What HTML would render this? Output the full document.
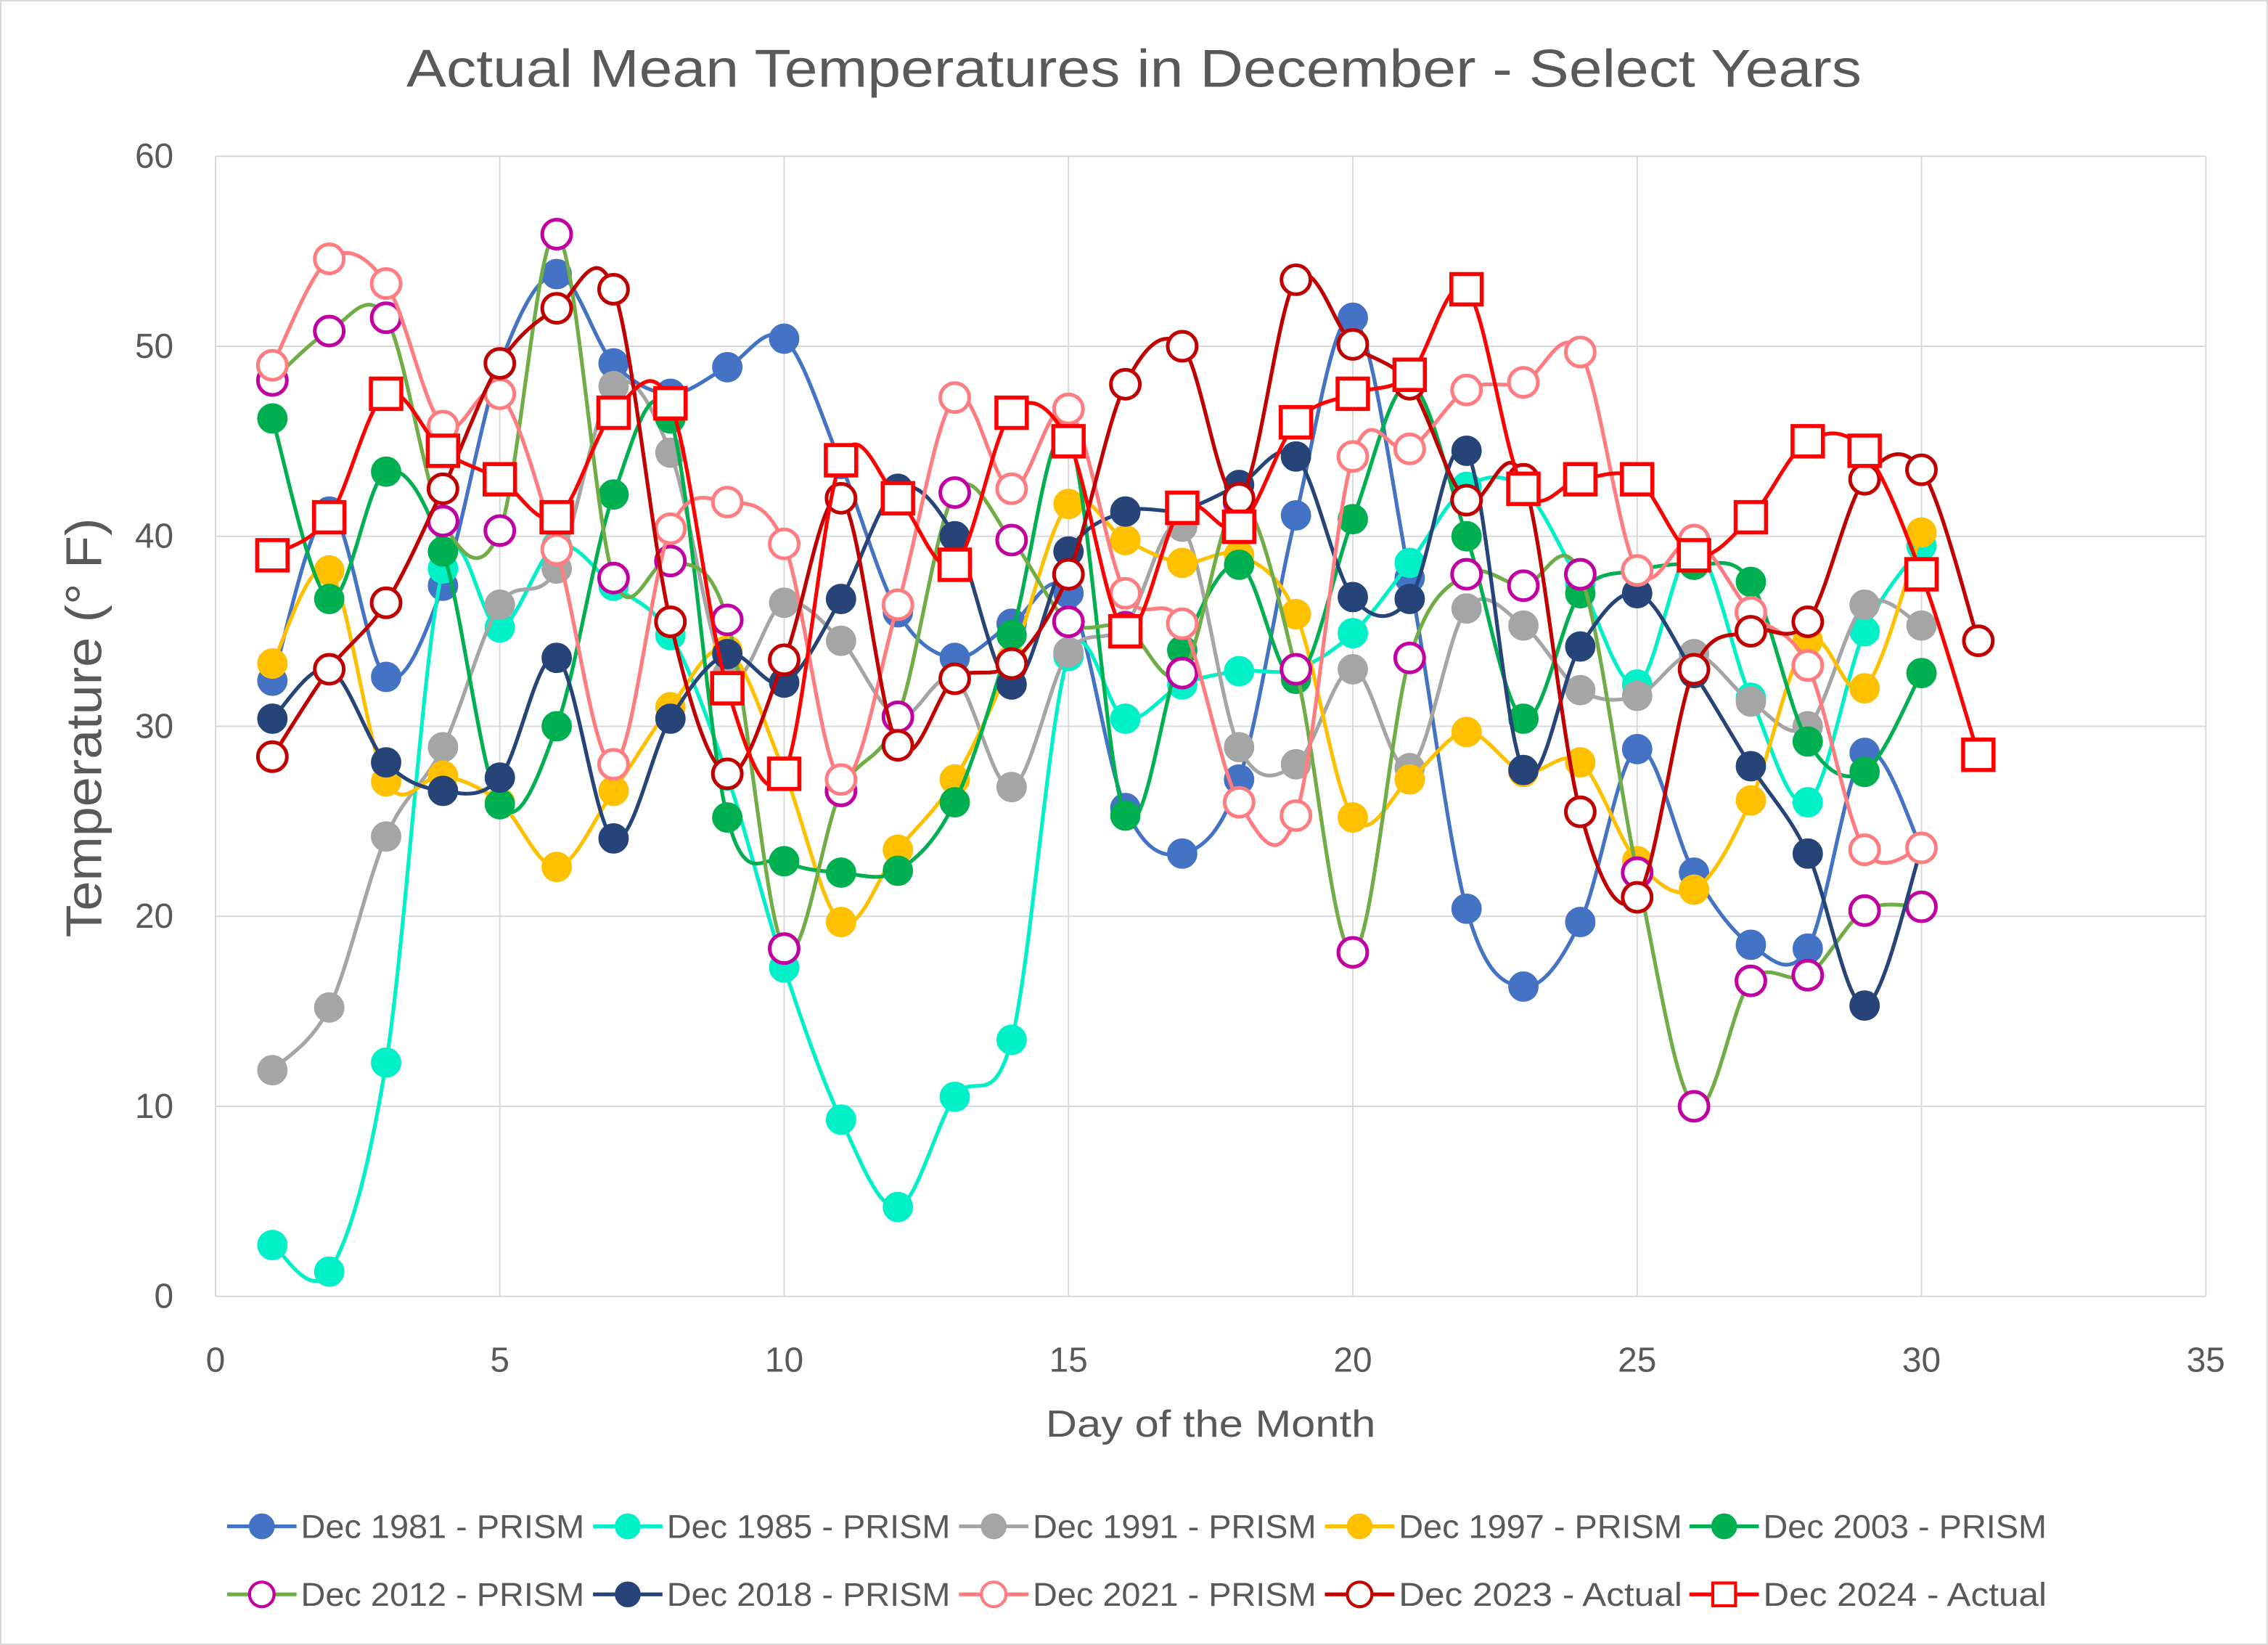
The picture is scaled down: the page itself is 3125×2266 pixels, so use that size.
<!DOCTYPE html>
<html><head><meta charset="utf-8"><style>
html,body{margin:0;padding:0;background:#fff;}
svg{display:block;font-family:"Liberation Sans",sans-serif;}
</style></head><body>
<svg id="chart" width="3125" height="2266" viewBox="0 0 1568 1137" preserveAspectRatio="none" xmlns="http://www.w3.org/2000/svg">
<rect x="0.5" y="0.5" width="1567" height="1136" fill="#fff" stroke="#d9d9d9"/>
<text x="784" y="60" text-anchor="middle" font-size="37" fill="#595959" textLength="1006" lengthAdjust="spacingAndGlyphs">Actual Mean Temperatures in December - Select Years</text>
<g id="grid"></g><g id="series"></g><g id="legend"></g>
<text transform="translate(70,503) rotate(-90)" text-anchor="middle" font-size="35" fill="#595959" textLength="290" lengthAdjust="spacingAndGlyphs">Temperature (° F)</text>
<text x="837" y="993" text-anchor="middle" font-size="26" fill="#595959" textLength="228" lengthAdjust="spacingAndGlyphs">Day of the Month</text>
</svg>
<script>
const yTicks=[0,10,20,30,40,50,60];
const xTicks=[0,5,10,15,20,25,30,35];
const seriesNames=["Dec 1981 - PRISM","Dec 1985 - PRISM","Dec 1991 - PRISM","Dec 1997 - PRISM","Dec 2003 - PRISM","Dec 2012 - PRISM","Dec 2018 - PRISM","Dec 2021 - PRISM","Dec 2023 - Actual","Dec 2024 - Actual"];
const s1981=[32.4,41.3,32.6,37.4,49,53.8,49.1,47.5,48.9,50.4,43.8,36,33.6,35.4,37,25.7,23.3,27.2,41.1,51.5,37.8,20.4,16.3,19.7,28.8,22.3,18.5,18.3,28.6,23.6];
const s1985=[2.7,1.3,12.3,38.3,35.2,39.5,37.4,34.8,27.4,17.3,9.3,4.7,10.5,13.5,33.7,30.4,32.2,32.9,33,34.9,38.6,42.6,42.5,37.5,32.2,39.4,31.5,26,35,39.5];
const s1991=[11.9,15.2,24.2,28.9,36.4,38.3,47.9,44.4,32.7,36.5,34.5,30.5,32.5,26.8,33.9,35.3,40.5,28.9,28,33,27.8,36.2,35.3,31.9,31.6,33.8,31.3,30,36.4,35.3];
const s1997=[33.3,38.2,27.1,27.4,26,22.6,26.6,31,34,27.6,19.7,23.5,27.2,33.5,41.7,39.8,38.6,39,35.9,25.2,27.2,29.7,27.6,28.1,22.9,21.4,26.1,34.5,32,40.2];
const s2003=[46.2,36.7,43.4,39.2,25.9,30,42.2,46.2,25.2,22.9,22.3,22.4,26,34.8,45.3,25.3,34,38.5,32.5,40.9,48,40,30.4,37,38.2,38.5,37.6,29.2,27.6,32.8];
const s2012=[48.2,50.8,51.5,40.8,40.3,55.9,37.8,38.7,35.6,18.3,26.6,30.5,42.3,39.8,35.5,35.2,32.8,41.8,33,18.1,33.6,38,37.4,38,22.3,10,16.6,16.9,20.3,20.5];
const s2018=[30.4,33,28.1,26.6,27.3,33.6,24.1,30.4,33.8,32.3,36.7,42.5,40,32.2,39.2,41.3,41.4,42.7,44.2,36.8,36.7,44.5,27.7,34.2,37,32.8,27.9,23.3,15.3,23.6];
const s2021=[49,54.6,53.3,45.8,47.5,39.3,28,40.4,41.8,39.6,27.2,36.4,47.3,42.5,46.7,37,35.4,26,25.3,44.2,44.6,47.7,48.1,49.7,38.2,39.8,36,33.2,23.5,23.6];
const s2023=[28.4,33,36.5,42.5,49.1,52,53,35.5,27.5,33.5,42,29,32.5,33.3,38,48,50,42,53.5,50.1,48,41.9,43,25.5,21,33,35,35.5,43,43.5,34.5];
const s2024=[39,41,47.5,44.5,43,41,46.5,47,32,27.5,44,42,38.5,46.5,45,35,41.5,40.5,46,47.5,48.5,53,42.5,43,43,39,41,45,44.5,38,28.5];
const allSeries=[s1981,s1985,s1991,s1997,s2003,s2012,s2018,s2021,s2023,s2024];
const lineColors=["#4472C4","#00F0C8","#A5A5A5","#FFC000","#00B050","#70AD47","#264478","#FF7C80","#C00000","#FF0000"];
const markerColors=["#4472C4","#00F0C8","#A5A5A5","#FFC000","#00B050","#C000A0","#264478","#FF7C80","#C00000","#FF0000"];
const markerTypes=["fill","fill","fill","fill","fill","ring","fill","ring","ring","square"];
const NS="http://www.w3.org/2000/svg";
const X0=149,X1=1525,Y0=896,Y1=108;
const xs=v=>X0+(v-0)/(35-0)*(X1-X0);
const ys=v=>Y0-(v-0)/(60-0)*(Y0-Y1);
function mk(tag,attrs,parent){const e=document.createElementNS(NS,tag);for(const k in attrs)e.setAttribute(k,attrs[k]);parent.appendChild(e);return e;}
const grid=document.getElementById('grid');
yTicks.forEach(t=>{
 const l=mk('line',{x1:X0,x2:X1,y1:ys(t),y2:ys(t),stroke:'#d9d9d9','stroke-width':1},grid);
 
 
 const tx=mk('text',{x:120,y:ys(t)+8,'text-anchor':'end','font-size':24,fill:'#595959'},grid);
 tx.textContent=t;
 
 
});
xTicks.forEach(t=>{
 const l=mk('line',{x1:xs(t),x2:xs(t),y1:Y1,y2:Y0,stroke:'#d9d9d9','stroke-width':1},grid);
 
 
 const tx=mk('text',{x:xs(t),y:948,'text-anchor':'middle','font-size':24,fill:'#595959'},grid);
 tx.textContent=t;
 
 
});
function smooth(pts){
 let d=`M${pts[0][0]},${pts[0][1]}`;
 for(let i=0;i<pts.length-1;i++){
  const p0=pts[i-1]||pts[i],p1=pts[i],p2=pts[i+1],p3=pts[i+2]||p2;
  const c1=[p1[0]+(p2[0]-p0[0])/6,p1[1]+(p2[1]-p0[1])/6];
  const c2=[p2[0]-(p3[0]-p1[0])/6,p2[1]-(p3[1]-p1[1])/6];
  d+=` C${c1[0]},${c1[1]} ${c2[0]},${c2[1]} ${p2[0]},${p2[1]}`;
 }
 return d;
}
function marker(type,color,cx,cy,parent){
 let m;
 if(type==='fill') m=mk('circle',{cx,cy,r:10,fill:color,stroke:color,'stroke-width':1},parent);
 else if(type==='ring') m=mk('circle',{cx,cy,r:10,fill:'#fff',stroke:color,'stroke-width':2.5},parent);
 else m=mk('rect',{x:cx-10.5,y:cy-10.5,width:21,height:21,fill:'#fff',stroke:color,'stroke-width':2.8},parent);
 return m;
}
const sg=document.getElementById('series');
allSeries.forEach((data,si)=>{
 const g=mk('g',{},sg);
 
 
 const pts=data.map((v,i)=>[xs(i+1),ys(v)]);
 const p=mk('path',{d:smooth(pts),fill:'none',stroke:lineColors[si],'stroke-width':2.6},g);
 
 
 pts.forEach(pt=>{
  const m=marker(markerTypes[si],markerColors[si],pt[0],pt[1],g);
  
  
 });
});
const lg=document.getElementById('legend');
const colX=[157,410,663,916,1168];
seriesNames.forEach((n,i)=>{
 const x=colX[i%5],y=i<5?1055:1102;
 const g=mk('g',{},lg);
 
 
 mk('line',{x1:x,x2:x+48,y1:y,y2:y,stroke:lineColors[i],'stroke-width':2.6},g);
 const sc=markerTypes[i]==='square'?0.75:0.85;
 const m=marker(markerTypes[i],markerColors[i],x+24,y,g);
 m.setAttribute('transform',`translate(${(x+24)*(1-sc)},${y*(1-sc)}) scale(${sc})`);
 const t=mk('text',{x:x+51,y:y+8,'font-size':23,fill:'#595959',textLength:196,lengthAdjust:'spacingAndGlyphs'},g);
 t.textContent=n;
});
</script>
</body></html>
